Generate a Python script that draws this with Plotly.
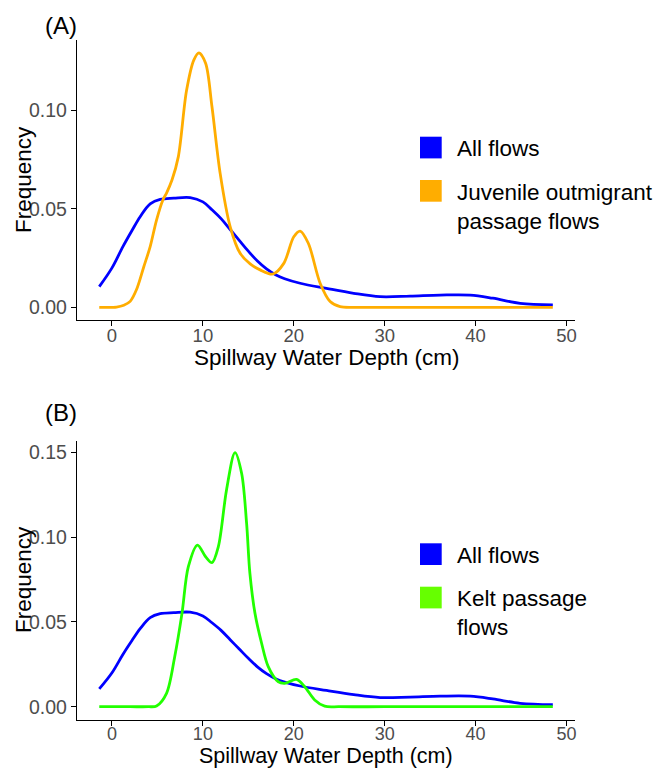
import plotly.graph_objects as go
from plotly.subplots import make_subplots

# ---- data ----
all_x = [-1.4, 0.0, 1.2, 2.2, 3.1, 4.2, 5.3, 6.8, 8.6, 10.0, 11.0, 12.0, 13.0, 14.0, 15.0, 16.0, 17.0, 18.0, 19.0, 20.7, 23.6, 26.6, 29.5, 32.8, 36.1, 39.4, 41.9, 44.9, 48.5]
all_y = [0.0105, 0.0200, 0.0308, 0.0390, 0.0460, 0.0525, 0.0548, 0.0554, 0.0557, 0.0535, 0.0495, 0.0450, 0.0395, 0.0340, 0.0285, 0.0235, 0.0195, 0.0165, 0.0145, 0.0122, 0.0096, 0.0071, 0.0054, 0.0057, 0.0062, 0.0062, 0.0046, 0.0020, 0.0012]

juv_x = [-1.4, 0.5, 1.3, 2.0, 2.7, 3.5, 4.2, 4.9, 5.6, 6.0, 6.6, 7.3, 8.2, 9.0, 9.57, 10.3, 11.0, 11.9, 13.0, 14.1, 15.2, 16.3, 17.7, 18.9, 20.0, 20.7, 21.6, 22.9, 24.0, 25.1, 27.0, 30.0, 40.0, 48.5]
juv_y = [0.0, 0.0001, 0.0010, 0.0030, 0.0090, 0.0206, 0.0308, 0.0443, 0.0545, 0.0580, 0.0646, 0.0765, 0.1100, 0.1255, 0.1292, 0.1239, 0.1018, 0.0680, 0.0410, 0.0274, 0.0220, 0.0190, 0.0169, 0.0223, 0.0358, 0.0387, 0.0325, 0.0122, 0.0029, 0.0003, 0.0, 0.0, 0.0, 0.0]

kelt_x = [-1.4, 2.0, 4.0, 4.9, 6.0, 6.9, 7.7, 8.4, 9.4, 10.3, 11.0, 11.7, 12.6, 13.53, 14.26, 14.81, 15.17, 15.73, 16.46, 17.19, 18.3, 19.0, 20.3, 21.2, 22.3, 23.4, 25.0, 30.0, 40.0, 48.5]
kelt_y = [0.0, 0.0, 0.0, 0.0004, 0.0079, 0.0295, 0.0550, 0.0825, 0.0953, 0.0884, 0.0849, 0.0943, 0.1278, 0.1498, 0.1376, 0.1080, 0.0787, 0.0551, 0.0374, 0.0236, 0.0147, 0.0138, 0.0161, 0.0118, 0.0040, 0.0003, 0.0, 0.0, 0.0, 0.0]

x_ticks = [0, 10, 20, 30, 40, 50]
yA_ticks = [0.00, 0.05, 0.10]
yB_ticks = [0.00, 0.05, 0.10, 0.15]

BLUE = "#0000FF"
ORANGE = "#FFAD00"
GREEN = "#22FF00"
GREEN_KEY = "#66FF00"
FONT = "Liberation Sans, Arial, sans-serif"

W, H = 657, 768
ML, MR, MT, MB = 77, 82, 40, 48
PW, PH = W - ML - MR, H - MT - MB

def px(xp):
    return (xp - ML) / PW

def py(yp):
    return (H - MB - yp) / PH

fig = make_subplots(rows=2, cols=1, vertical_spacing=0.0)

line_kw = dict(mode="lines", line_shape="spline", showlegend=False, hoverinfo="skip")
fig.add_trace(go.Scatter(x=all_x, y=all_y, line=dict(color=BLUE, width=2.8, smoothing=1.0), **line_kw), row=1, col=1)
fig.add_trace(go.Scatter(x=juv_x, y=juv_y, line=dict(color=ORANGE, width=2.8, smoothing=0.9), **line_kw), row=1, col=1)
fig.add_trace(go.Scatter(x=all_x, y=all_y, line=dict(color=BLUE, width=2.8, smoothing=1.0), **line_kw), row=2, col=1)
fig.add_trace(go.Scatter(x=kelt_x, y=kelt_y, line=dict(color=GREEN, width=2.8, smoothing=0.9), **line_kw), row=2, col=1)

xaxis_kw = dict(range=[-3.85, 50.94], tickvals=x_ticks, ticks="outside", ticklen=5, tickwidth=1.3,
                tickcolor="black", showline=True, linecolor="black", linewidth=1.3, showgrid=False,
                zeroline=False, tickfont=dict(family=FONT, size=18.5, color="#4D4D4D"),
                ticklabelstandoff=-6, automargin=False, domain=[0, 1])
yaxis_kw = dict(ticks="outside", ticklen=5, tickwidth=1.3, tickcolor="black", showline=True,
                linecolor="black", linewidth=1.3, showgrid=False, zeroline=False,
                tickfont=dict(family=FONT, size=19.5, color="#4D4D4D"), tickformat=".2f",
                automargin=False)

fig.update_xaxes(**xaxis_kw)
fig.update_xaxes(ticklabelstandoff=-8, tickfont=dict(size=18), row=2, col=1)
fig.update_yaxes(**yaxis_kw)
fig.update_yaxes(range=[-0.00645, 0.1357], tickvals=yA_ticks, domain=[py(320), 1.0], row=1, col=1)
fig.update_yaxes(range=[-0.00784, 0.1568], tickvals=yB_ticks, domain=[0.0, py(440.7)], row=2, col=1)

shapes = []
annotations = []

def key(x0, y0, color):
    shapes.append(dict(type="rect", xref="paper", yref="paper", x0=px(x0), x1=px(x0 + 21.7),
                       y0=py(y0 + 21.7), y1=py(y0), fillcolor=color, line=dict(width=0)))

def label(x, y, text, size=22.5, color="black", xanchor="left", angle=0):
    annotations.append(dict(xref="paper", yref="paper", x=px(x), y=py(y), text=text, showarrow=False,
                            xanchor=xanchor, yanchor="middle", align="left", textangle=angle,
                            font=dict(family=FONT, size=size, color=color)))

# Panel A legend
key(420, 136.7, BLUE)
key(420, 180, ORANGE)
label(455, 148, "All flows")
label(455, 207, "Juvenile outmigrant<br>passage flows")
# Panel B legend
key(420, 543.3, BLUE)
key(420, 586.7, GREEN_KEY)
label(455, 555, "All flows")
label(455, 612.5, "Kelt passage<br>flows")
# Panel tags
label(43, 25, "(A)", size=24)
label(43, 412, "(B)", size=24)
# Axis titles
label(326, 357, "Spillway Water Depth (cm)", size=22.5, xanchor="center")
label(326, 755.5, "Spillway Water Depth (cm)", size=21.5, xanchor="center")
label(23, 180, "Frequency", size=22.5, xanchor="center", angle=-90)
label(23, 580, "Frequency", size=22.5, xanchor="center", angle=-90)

fig.update_layout(template="none", width=W, height=H, paper_bgcolor="white", plot_bgcolor="white",
                  margin=dict(l=ML, r=MR, t=MT, b=MB, autoexpand=False), showlegend=False,
                  shapes=shapes, annotations=annotations, font=dict(family=FONT))

fig.write_html("out.html")
